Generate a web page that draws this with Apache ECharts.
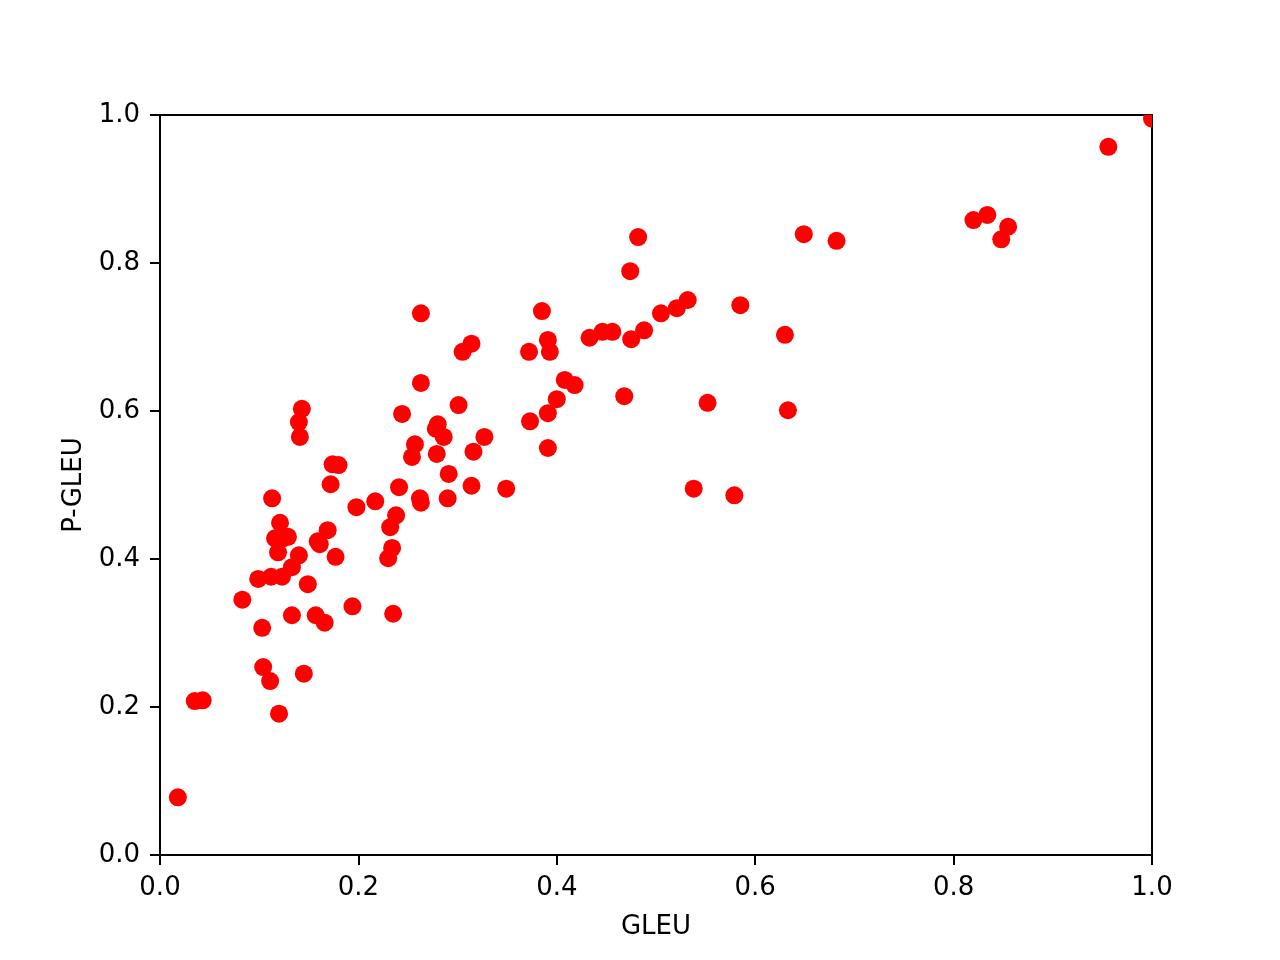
<!DOCTYPE html>
<html>
<head>
<meta charset="utf-8">
<script src="https://cdn.jsdelivr.net/npm/echarts@6/dist/echarts.min.js"></script>
<style>html,body{margin:0;padding:0;background:#fff}#c{width:1280px;height:960px}</style>
</head>
<body>
<div id="c"></div>
<script>
const gleu = [0.018,0.035,0.043,0.083,0.099,0.103,0.104,0.111,0.113,0.112,0.116,0.119,0.121,0.120,0.123,0.124,0.129,0.133,0.133,0.140,0.140,0.141,0.143,0.145,0.149,0.157,0.159,0.161,0.166,0.169,0.172,0.174,0.177,0.180,0.194,0.198,0.217,0.230,0.232,0.234,0.235,0.238,0.241,0.244,0.254,0.257,0.262,0.263,0.263,0.263,0.278,0.279,0.280,0.286,0.290,0.291,0.301,0.305,0.314,0.314,0.316,0.327,0.349,0.372,0.373,0.385,0.391,0.391,0.391,0.393,0.400,0.408,0.418,0.433,0.446,0.456,0.468,0.474,0.475,0.482,0.488,0.505,0.521,0.532,0.538,0.552,0.579,0.585,0.630,0.633,0.649,0.682,0.820,0.834,0.848,0.855,0.956,1.000];
const pgleu = [0.078,0.208,0.209,0.345,0.373,0.307,0.254,0.235,0.482,0.376,0.428,0.409,0.449,0.191,0.376,0.428,0.430,0.389,0.324,0.405,0.585,0.565,0.603,0.245,0.366,0.324,0.424,0.420,0.314,0.439,0.501,0.528,0.403,0.527,0.336,0.470,0.478,0.401,0.443,0.415,0.326,0.459,0.497,0.596,0.538,0.555,0.482,0.476,0.732,0.638,0.576,0.542,0.582,0.565,0.482,0.515,0.608,0.680,0.691,0.499,0.545,0.565,0.495,0.680,0.586,0.735,0.696,0.597,0.550,0.680,0.616,0.642,0.635,0.699,0.707,0.707,0.620,0.789,0.697,0.835,0.709,0.732,0.739,0.750,0.495,0.611,0.486,0.743,0.703,0.601,0.839,0.830,0.858,0.865,0.832,0.849,0.957,0.995];
const ticks = [0.0,0.2,0.4,0.6,0.8,1.0];

const data = gleu.map((x,i)=>[x,pgleu[i]]);
const chart = echarts.init(document.getElementById('c'), null, {renderer:'canvas'});
const font = 'DejaVu Sans';
const axisCommon = {
  min: 0, max: 1, interval: 0.2,
  axisLine: {show: true, onZero: false, lineStyle: {color:'#000', width: 2}},
  axisTick: {show: true, inside: false, length: 10, lineStyle: {color:'#000', width: 2}},
  splitLine: {show: false},
  axisLabel: {color:'#000', fontFamily: font, fontSize: 26, margin: 20, formatter: v => v.toFixed(1)},
  nameTextStyle: {color:'#000', fontFamily: font, fontSize: 26}
};
chart.setOption({
  animation: false,
  backgroundColor: '#fff',
  grid: {left:160, right:128, top:115, bottom:105, show:true, borderColor:'#000', borderWidth:2, backgroundColor:'transparent'},
  xAxis: Object.assign({type:'value', name:'GLEU', nameLocation:'middle', nameGap:59}, axisCommon),
  yAxis: Object.assign({type:'value', name:'P-GLEU', nameLocation:'middle', nameGap:73}, axisCommon),
  series: [{
    type:'custom', data: data, clip: true,
    encode: {x: 0, y: 1},
    renderItem: function(params, api) {
      const p = api.coord([api.value(0), api.value(1)]);
      return {type:'circle', shape:{cx:p[0], cy:p[1], r:9}, style:{fill:'#ff0000'}};
    }
  }]
});
</script>
</body>
</html>
